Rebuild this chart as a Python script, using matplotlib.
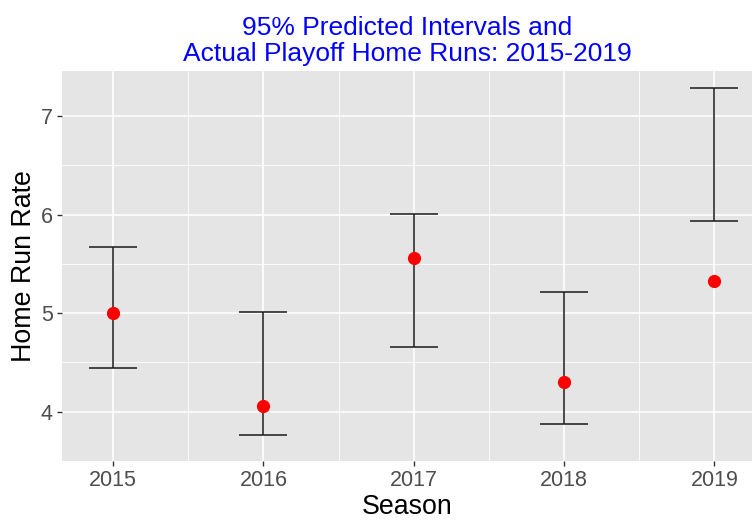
import matplotlib.pyplot as plt
import numpy as np

plt.rcParams['font.family'] = ['Liberation Sans', 'DejaVu Sans']

season = [2015, 2016, 2017, 2018, 2019]
lower = [4.44, 3.76, 4.66, 3.88, 5.94]
upper = [5.67, 5.01, 6.01, 5.21, 7.28]
actual = [5.00, 4.06, 5.56, 4.30, 5.33]

fig = plt.figure(figsize=(7.54, 5.21), dpi=100)
ax = fig.add_axes([62 / 754, 60 / 521, 690 / 754, 390 / 521])
ax.set_facecolor('#E5E5E5')
for s in ax.spines.values():
    s.set_visible(False)

ax.set_xlim(2014.66, 2019.25)
ax.set_ylim(3.59, 7.457)
ax.set_xticks(season)
ax.set_yticks([4, 5, 6, 7])
ax.set_xticks(np.arange(2015.5, 2019, 1), minor=True)
ax.set_yticks([3.5, 4.5, 5.5, 6.5], minor=True)
ax.grid(which='major', color='white', linewidth=1.2)
ax.grid(which='minor', color='white', linewidth=0.6)
ax.set_axisbelow(True)
ax.tick_params(which='major', colors='#333333', labelcolor='#4D4D4D',
               labelsize=15.5, length=3.5, width=1, pad=3)
ax.tick_params(which='minor', length=0)

mid = [(l + u) / 2 for l, u in zip(lower, upper)]
err = [[m - l for m, l in zip(mid, lower)], [u - m for u, m in zip(upper, mid)]]
ax.errorbar(season, mid, yerr=err, fmt='none', ecolor='#1a1a1a',
            elinewidth=1.1, capsize=17.6, capthick=1.1)
ax.plot(season, actual, 'o', color='red', markersize=8.5, zorder=3)

ax.set_xlabel('Season', fontsize=19.3, labelpad=2)
ax.set_ylabel('Home Run Rate', fontsize=19.3, labelpad=3)
ax.set_title('95% Predicted Intervals and\nActual Playoff Home Runs: 2015-2019',
             color='blue', fontsize=19, pad=7, linespacing=1.1)

fig.savefig('out.png', dpi=100)
